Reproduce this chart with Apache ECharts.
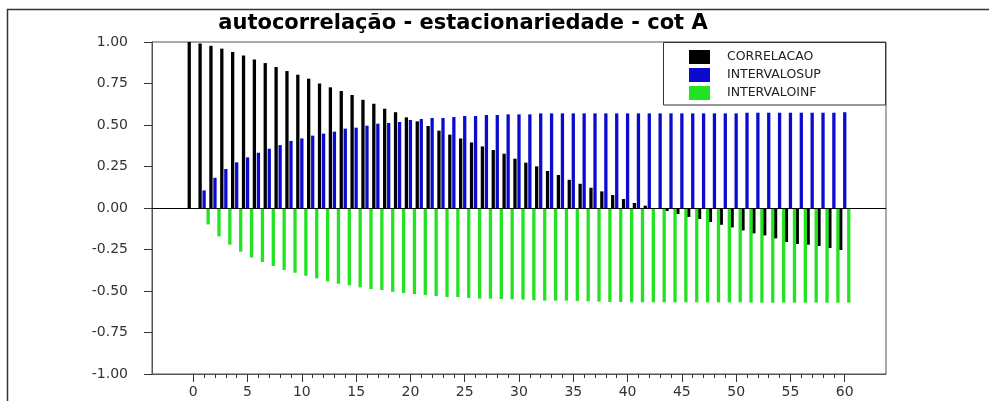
<!DOCTYPE html>
<html>
<head>
<meta charset="utf-8">
<title>autocorrelação - estacionariedade - cot A</title>
<script src="https://cdn.jsdelivr.net/npm/echarts@6/dist/echarts.min.js"></script>
<style>
  html, body { margin: 0; padding: 0; background: #fff; }
  #chart { width: 989px; height: 401px; }
</style>
</head>
<body>
<div id="chart"></div>
<script>
// Lags 0..60
const lags = Array.from({ length: 61 }, (_, i) => i);

// Sample autocorrelation per lag
const correlacao = [
  1.000, 0.991, 0.977, 0.960, 0.940, 0.919, 0.895, 0.873, 0.849, 0.825,
  0.803, 0.779, 0.750, 0.727, 0.705, 0.681, 0.652, 0.628, 0.598, 0.577,
  0.546, 0.522, 0.494, 0.466, 0.442, 0.419, 0.395, 0.371, 0.349, 0.327,
  0.297, 0.273, 0.251, 0.223, 0.199, 0.170, 0.146, 0.122, 0.100, 0.078,
  0.054, 0.030, 0.014, -0.004, -0.018, -0.036, -0.054, -0.066, -0.084, -0.101,
  -0.117, -0.135, -0.153, -0.165, -0.183, -0.205, -0.217, -0.221, -0.229, -0.241,
  -0.253
];

// Upper confidence bound, lags 1..60
const intervaloSup = [
  0.106, 0.182, 0.235, 0.275, 0.305, 0.333, 0.357, 0.379, 0.404, 0.419,
  0.436, 0.448, 0.460, 0.478, 0.484, 0.496, 0.508, 0.512, 0.518, 0.530,
  0.536, 0.542, 0.542, 0.548, 0.554, 0.554, 0.560, 0.560, 0.564, 0.564,
  0.564, 0.570, 0.570, 0.570, 0.570, 0.570, 0.570, 0.570, 0.570, 0.570,
  0.570, 0.570, 0.570, 0.570, 0.570, 0.570, 0.570, 0.570, 0.570, 0.570,
  0.574, 0.574, 0.574, 0.574, 0.574, 0.574, 0.574, 0.574, 0.574, 0.577
];

// Lower confidence bound, lags 1..60
const intervaloInf = [
  -0.099, -0.171, -0.221, -0.263, -0.298, -0.325, -0.349, -0.373, -0.390, -0.408,
  -0.424, -0.442, -0.456, -0.466, -0.478, -0.488, -0.494, -0.505, -0.512, -0.518,
  -0.524, -0.530, -0.536, -0.536, -0.542, -0.546, -0.546, -0.548, -0.550, -0.552,
  -0.556, -0.558, -0.558, -0.558, -0.560, -0.562, -0.564, -0.566, -0.566, -0.568,
  -0.568, -0.568, -0.568, -0.568, -0.568, -0.568, -0.568, -0.568, -0.568, -0.568,
  -0.570, -0.570, -0.570, -0.570, -0.570, -0.570, -0.570, -0.570, -0.570, -0.570
];

// Axis ticks
const xTickStep = 5;
const xMinorStep = 1;
const xTickRange = [0, 60];
const yTickStep = 0.25;
const yRange = [-1, 1];

const seriesNames = ['CORRELACAO', 'INTERVALOSUP', 'INTERVALOINF'];
const seriesColors = ['#000000', '#0b0bcf', '#22e322'];

const FONT = 'DejaVu Sans';
// lag range shown inside the frame
const X_MIN = -3.8, X_MAX = 63.8;

// plot frame in pixels
const FRAME = { left: 152, right: 886, top: 42, bottom: 374 };
const CW = 989, CH = 401;
const pxPerLag = (FRAME.right - FRAME.left) / (X_MAX - X_MIN);
// sub-frame spanning exactly lags 0..60, used only for the tick scale
const tickLeft = FRAME.left + (xTickRange[0] - X_MIN) * pxPerLag;
const tickRight = FRAME.left + (xTickRange[1] - X_MIN) * pxPerLag;

const chart = echarts.init(document.getElementById('chart'));

const barBase = {
  type: 'bar',
  barWidth: 3.3,
  barGap: '22%',
  xAxisIndex: 0,
  yAxisIndex: 0,
  animation: false
};

chart.setOption({
  backgroundColor: '#ffffff',
  animation: false,
  title: {
    text: 'autocorrelação - estacionariedade - cot A',
    left: 458,
    top: 8,
    textAlign: 'center',
    textStyle: { fontFamily: FONT, fontWeight: 'bold', fontSize: 21, color: '#000' }
  },
  grid: [
    {
      left: FRAME.left, top: FRAME.top, right: CW - FRAME.right, bottom: CH - FRAME.bottom,
      outerBoundsMode: 'none',
      show: true, borderColor: '#555', borderWidth: 1, backgroundColor: 'transparent'
    },
    {
      left: tickLeft, top: FRAME.top, right: CW - tickRight, bottom: CH - FRAME.bottom,
      outerBoundsMode: 'none', show: false
    }
  ],
  legend: {
    orient: 'vertical',
    left: 684, top: 45,
    itemWidth: 21, itemHeight: 14, itemGap: 4,
    icon: 'rect',
    data: seriesNames,
    textStyle: { fontFamily: FONT, fontSize: 12.5, color: '#222', padding: [0, 0, 0, 12] }
  },
  graphic: [
    { // outer frame
      type: 'rect', z: 0, silent: true,
      shape: { x: 7.5, y: 9.5, width: 1000, height: 420 },
      style: { fill: 'none', stroke: '#333', lineWidth: 1.5 }
    },
    { // legend box
      type: 'rect', z: 0, silent: true,
      shape: { x: 663.5, y: 42.5, width: 222, height: 62.5 },
      style: { fill: 'none', stroke: '#333', lineWidth: 1 }
    }
  ],
  xAxis: [
    { // data axis for the bars
      gridIndex: 0, type: 'value', min: X_MIN, max: X_MAX, position: 'bottom',
      splitLine: { show: false },
      axisLine: { show: true, onZero: false, lineStyle: { color: '#555' } },
      axisTick: { show: false },
      axisLabel: { show: false }
    },
    { // major ticks + labels every 5 lags
      gridIndex: 1, type: 'value', min: xTickRange[0], max: xTickRange[1],
      interval: xTickStep, position: 'bottom',
      splitLine: { show: false },
      axisLine: { show: false, onZero: false },
      axisTick: { show: true, length: 8, lineStyle: { color: '#333' } },
      axisLabel: { margin: 11, fontFamily: FONT, fontSize: 14, color: '#333' }
    },
    { // minor ticks every lag
      gridIndex: 1, type: 'value', min: xTickRange[0], max: xTickRange[1],
      interval: xMinorStep, position: 'bottom',
      splitLine: { show: false },
      axisLine: { show: false, onZero: false },
      axisTick: { show: true, length: 4, lineStyle: { color: '#333' } },
      axisLabel: { show: false }
    }
  ],
  yAxis: [
    {
      gridIndex: 0, type: 'value', min: yRange[0], max: yRange[1], interval: yTickStep,
      position: 'left',
      splitLine: { show: false },
      axisLine: { show: true, onZero: false, lineStyle: { color: '#555' } },
      axisTick: { show: true, length: 8, lineStyle: { color: '#333' } },
      axisLabel: {
        formatter: v => Number(v).toFixed(2),
        margin: 24, fontFamily: FONT, fontSize: 14, color: '#333'
      }
    },
    {
      gridIndex: 1, type: 'value', min: yRange[0], max: yRange[1], show: false,
      axisLine: { onZero: false }
    }
  ],
  series: [
    Object.assign({}, barBase, {
      name: seriesNames[0],
      itemStyle: { color: seriesColors[0] },
      data: lags.map(i => [i, correlacao[i]]),
      markLine: {
        silent: true, symbol: 'none', animation: false,
        label: { show: false },
        lineStyle: { color: '#000', type: 'solid', width: 1 },
        data: [{ yAxis: 0 }]
      }
    }),
    Object.assign({}, barBase, {
      name: seriesNames[1],
      itemStyle: { color: seriesColors[1] },
      data: intervaloSup.map((v, k) => [k + 1, v])
    }),
    Object.assign({}, barBase, {
      name: seriesNames[2],
      itemStyle: { color: seriesColors[2] },
      data: intervaloInf.map((v, k) => [k + 1, v])
    })
  ]
});
</script>
</body>
</html>
